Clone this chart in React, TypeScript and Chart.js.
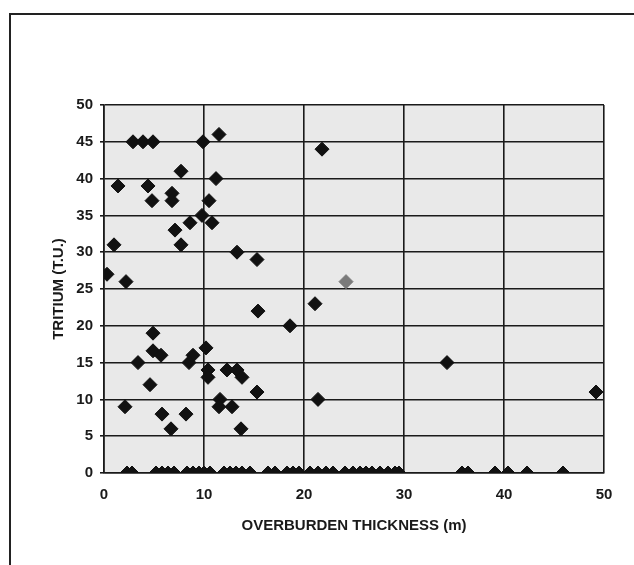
import React, { useEffect, useRef } from "react";
import { Chart, registerables } from "chart.js";

Chart.register(...registerables);

// Overburden thickness (m) and tritium (T.U.) for each well
const thicknessNonZero = [
  0.3, 1.0, 1.4, 2.2, 2.1, 2.9, 3.9, 4.9, 9.9, 11.5, 7.7, 4.4, 4.8, 6.8, 6.8,
  11.2, 10.5, 9.8, 10.8, 8.6, 7.1, 7.7, 13.3, 15.3, 21.8, 15.4, 4.9, 4.9, 5.7,
  3.4, 8.9, 8.5, 10.2, 10.4, 10.4, 12.3, 13.3, 13.8, 4.6, 15.3, 11.6, 11.5,
  12.8, 5.8, 8.2, 6.7, 13.7, 21.1, 18.6, 21.4, 34.3, 49.2,
];
const tritiumNonZero = [
  27, 31, 39, 26, 9, 45, 45, 45, 45, 46, 41, 39, 37, 38, 37,
  40, 37, 35, 34, 34, 33, 31, 30, 29, 44, 22, 19, 16.6, 16,
  15, 16, 15, 17, 14, 13, 14, 14, 13, 12, 11, 10, 9,
  9, 8, 8, 6, 6, 23, 20, 10, 15, 11,
];
const thicknessZero = [
  2.3, 2.8, 5.2, 5.8, 6.4, 7.0, 8.3, 8.9, 9.5, 10.0, 10.6, 12.0, 12.6, 13.2,
  13.8, 14.6, 16.4, 17.1, 18.3, 18.9, 19.5, 20.6, 21.4, 22.2, 22.9, 24.1, 24.9,
  25.6, 26.2, 26.8, 27.6, 28.4, 29.1, 29.5, 35.8, 36.4, 39.1, 40.4, 42.3, 45.9,
];
const highlightThickness = [24.2];
const highlightTritium = [26];

const xTickValues = [0, 10, 20, 30, 40, 50];
const yTickValues = [0, 5, 10, 15, 20, 25, 30, 35, 40, 45, 50];

const plotBg = {
  id: "plotBg",
  beforeDraw(chart: any) {
    const { ctx, chartArea } = chart;
    ctx.save();
    ctx.fillStyle = "#e9e9e9";
    ctx.fillRect(chartArea.left, chartArea.top, chartArea.right - chartArea.left, chartArea.bottom - chartArea.top);
    ctx.restore();
  },
};

export default function App() {
  const ref = useRef<HTMLCanvasElement | null>(null);

  useEffect(() => {
    if (!ref.current) return;
    const black = [
      ...thicknessNonZero.map((x, i) => ({ x, y: tritiumNonZero[i] })),
      ...thicknessZero.map((x) => ({ x, y: 0 })),
    ];
    const gray = highlightThickness.map((x, i) => ({ x, y: highlightTritium[i] }));
    const font = { family: "'Liberation Sans', Arial, sans-serif" };
    const chart = new Chart(ref.current, {
      type: "scatter",
      data: {
        datasets: [
          {
            data: black,
            pointStyle: "rectRot",
            pointRadius: 7,
            backgroundColor: "#111",
            borderColor: "#111",
            borderWidth: 1,
          },
          {
            data: gray,
            pointStyle: "rectRot",
            pointRadius: 7,
            backgroundColor: "#7a7a7a",
            borderColor: "#7a7a7a",
            borderWidth: 1,
          },
        ],
      },
      options: {
        animation: false,
        responsive: false,
        devicePixelRatio: 1,
        layout: { padding: { left: 50, top: 105, right: 30, bottom: 30 } },
        plugins: { legend: { display: false }, tooltip: { enabled: false } },
        scales: {
          x: {
            type: "linear",
            min: 0,
            max: 50,
            afterBuildTicks: (s: any) => {
              s.ticks = xTickValues.map((v) => ({ value: v }));
            },
            afterFit: (s: any) => {
              s.height = 62;
            },
            grid: { color: "#1a1a1a", lineWidth: 1.6, drawTicks: false },
            border: { color: "#1a1a1a", width: 1.6 },
            ticks: {
              color: "#1a1a1a",
              padding: 13,
              font: { ...font, size: 15, weight: "bold" },
            },
            title: {
              display: true,
              text: "OVERBURDEN THICKNESS (m)",
              color: "#1a1a1a",
              padding: 0,
              font: { ...font, size: 15, weight: "bold" },
            },
          },
          y: {
            type: "linear",
            min: 0,
            max: 50,
            afterBuildTicks: (s: any) => {
              s.ticks = yTickValues.map((v) => ({ value: v }));
            },
            afterFit: (s: any) => {
              s.width = 54;
            },
            grid: { color: "#1a1a1a", lineWidth: 1.6, tickLength: 4 },
            border: { color: "#1a1a1a", width: 1.6 },
            ticks: {
              color: "#1a1a1a",
              padding: 7,
              font: { ...font, size: 15, weight: "bold" },
            },
            title: {
              display: true,
              text: "TRITIUM (T.U.)",
              color: "#1a1a1a",
              padding: 0,
              font: { ...font, size: 15, weight: "bold" },
            },
          },
        },
      },
      plugins: [plotBg],
    });
    return () => chart.destroy();
  }, []);

  return (
    <div style={{ position: "fixed", left: 0, top: 0, width: 634, height: 565, overflow: "hidden", background: "#fff" }}>
      <div
        style={{
          position: "absolute",
          left: 9,
          top: 13,
          right: -10,
          bottom: -10,
          borderTop: "2px solid #222",
          borderLeft: "2px solid #222",
        }}
      />
      <canvas ref={ref} width={634} height={565} style={{ position: "absolute", left: 0, top: 0 }} />
    </div>
  );
}
